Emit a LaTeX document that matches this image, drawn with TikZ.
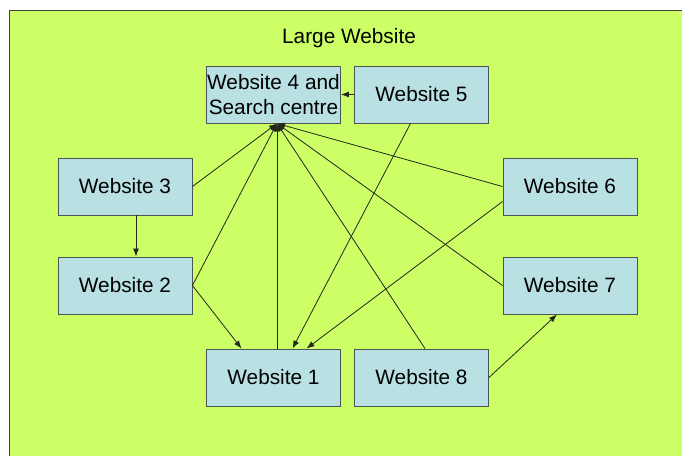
\documentclass[tikz,border=0pt]{standalone}
\usepackage{fontspec}
\setmainfont{Liberation Sans}
\usetikzlibrary{arrows.meta, calc}
\definecolor{SiteGreen}{RGB}{204,255,102}
\definecolor{BoxBlue}{RGB}{185,224,227}
\definecolor{BoxEdge}{RGB}{75,85,85}
\definecolor{LineDark}{RGB}{35,40,25}

\begin{document}
\begin{tikzpicture}[
    x=1pt, y=-1pt,
    site/.style={draw=BoxEdge, line width=0.9pt, fill=BoxBlue, align=center,
        minimum width=134pt, minimum height=57pt, inner sep=0pt,
        font=\fontsize{20.8}{25.5}\selectfont},
    link/.style={-{Latex[length=8pt,width=6pt]}, line width=0.8pt, LineDark},
]
\useasboundingbox (0,0) rectangle (682,456);

% fondo
\fill[white] (0,0) rectangle (682,456);
\fill[SiteGreen] (9.5,10.5) rectangle (682,456);
\draw[black!75, line width=1pt] (9.5,456) -- (9.5,10.5) -- (682,10.5);

\node[font=\fontsize{20.8}{24}\selectfont] (title) at (349,38) {Large Website};

% sitios
\node[site] (w4) at (273.5,94.5) {Website 4 and\\Search centre};
\node[site] (w5) at (421.5,94.5) {Website 5};
\node[site] (w3) at (125,186.5) {Website 3};
\node[site] (w6) at (570,186.5) {Website 6};
\node[site] (w2) at (125,285.5) {Website 2};
\node[site] (w7) at (570,285.5) {Website 7};
\node[site] (w1) at (273.5,377.5) {Website 1};
\node[site] (w8) at (421.5,377.5) {Website 8};
\coordinate (hub) at ($(w4.south)+(3.5,0)$);

% todo hacia el centro de busqueda
\foreach \n/\a in {w3/east, w2/east, w6/west, w7/west}
    \draw[link] (\n.\a) -- (hub);
\draw[link] (w1.north -| hub) -- (hub);
\draw[link] ($(w8.north)+(3.5,0)$) -- (hub);

% enlaces entre sitios
\draw[link] (w5.west) -- (w4.east);
\draw[link] ($(w3.south)+(11,0)$) -- ($(w2.north)+(11,0)$);
\draw[link] (w2.east) -- ($(w1.north)+(-32,0)$);
\draw[link] ($(w5.south)+(-11,0)$) -- ($(w1.north)+(19,0)$);
\draw[link] ($(w6.west)+(0,15)$) -- ($(w1.north)+(33,0)$);
\draw[link] (w8.east) -- ($(w7.south)+(-13,0)$);

\end{tikzpicture}
\end{document}
